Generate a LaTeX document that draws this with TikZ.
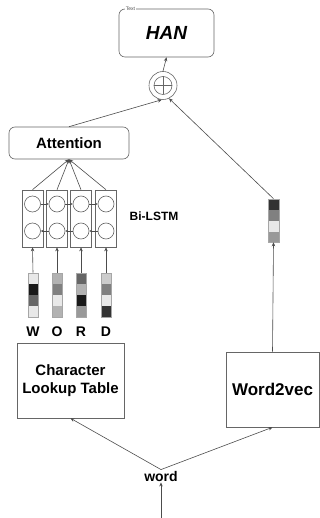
\documentclass[tikz,border=0pt]{standalone}
\usepackage{fontspec}
\setmainfont{Liberation Sans}
\usetikzlibrary{arrows.meta,calc}
\begin{document}
\begin{tikzpicture}[x=1pt,y=-1pt,
  line width=0.6pt,
  edge/.style={draw=black!70},
  arr/.style={edge,-{Stealth[length=4pt,width=3.5pt]}},
  rbox/.style={draw=black!60,rounded corners=6pt,fill=white,inner sep=0pt},
  sbox/.style={draw=black!60,fill=white,inner sep=0pt},
  cellcol/.style={draw=black!60,minimum width=21,minimum height=57,inner sep=0pt},
  unit/.style={circle,draw=black!60,minimum size=16,inner sep=0pt},
  vecbox/.style={draw=black!35,minimum width=10,minimum height=44,inner sep=0pt},
  lbl/.style={font=\bfseries},
]
\useasboundingbox (0,0) rectangle (320,518);

% output block
\node[rbox,minimum width=95,minimum height=48] (han) at (166.5,33)
  {\fontsize{19}{19}\selectfont\bfseries\itshape HAN};
\node[fill=white,inner sep=0.5pt,text=black!70,font=\fontsize{5}{5}\selectfont] (tag) at (130.5,9) {Text};

% merge (sum) node
\node[circle,draw=black!60,minimum size=28,inner sep=0pt] (sum) at (163,85.5) {};
\draw[black!60] (sum.center) circle[radius=9];
\draw[black!60] ($(sum.center)+(-9,0)$) -- ($(sum.center)+(9,0)$)
                ($(sum.center)+(0,-9)$) -- ($(sum.center)+(0,9)$);
\draw[arr] (sum.north) -- (han.south);

% attention
\node[rbox,minimum width=120,minimum height=32,font=\fontsize{15}{15}\selectfont\bfseries] (att) at (69,143) {Attention};

% Bi-LSTM columns
\foreach \i/\x in {1/32.5,2/57,3/81,4/106}{
  \node[cellcol] (col\i) at (\x,218.5) {};
  \node[unit] (t\i) at (\x,204) {};
  \node[unit] (b\i) at (\x,231) {};
  \draw[arr] (col\i.north) -- (att.south);
}
\foreach \a/\b in {1/2,2/3,3/4}{
  \draw[edge,-{Stealth[length=2.5pt,width=2.5pt]}] (t\a.east) -- (t\b.west);
  \draw[edge,-{Stealth[length=2.5pt,width=2.5pt]}] (b\b.west) -- (b\a.east);
}
\node[lbl,font=\fontsize{12}{12}\selectfont\bfseries] (bilstm) at (154,216) {Bi-LSTM};

% character embedding vectors
\newcommand\embcells[5]{%
  \fill[#2] (#1-5,273) rectangle (#1+5,284);
  \fill[#3] (#1-5,284) rectangle (#1+5,295);
  \fill[#4] (#1-5,295) rectangle (#1+5,306);
  \fill[#5] (#1-5,306) rectangle (#1+5,317);}
\embcells{33}{black!9}{black!90}{black!60}{black!9}
\embcells{57}{black!30}{black!50}{black!9}{black!30}
\embcells{81}{black!60}{black!30}{black!90}{black!40}
\embcells{106}{black!20}{black!50}{black!9}{black!80}
\foreach \i/\x/\c in {1/33/W,2/57/O,3/81/R,4/106/D}{
  \node[vecbox] (v\i) at (\x,295) {};
  \draw[arr] (v\i.north) -- (col\i.south);
  \node[font=\fontsize{14}{14}\selectfont\bfseries] (ch\i) at (\x,332) {\c};
}

% character lookup table
\node[sbox,minimum width=107,minimum height=75,align=center,
      font=\fontsize{15}{18}\selectfont\bfseries] (clt) at (70.5,380.5)
  {Character\\Lookup Table};

% word2vec branch
\node[sbox,minimum width=93,minimum height=75,font=\fontsize{17}{17}\selectfont\bfseries] (w2v) at (272.5,389.5) {Word2vec};
\fill[black!80] (268,199) rectangle (279,210);
\fill[black!50] (268,210) rectangle (279,221);
\fill[black!9]  (268,221) rectangle (279,232);
\fill[black!40] (268,232) rectangle (279,242);
\node[draw=black!35,minimum width=11,minimum height=43,inner sep=0pt] (wv) at (273.5,220.5) {};
\draw[arr] (w2v.north) -- (wv.south);
\draw[arr] (wv.north) -- (sum.-65);
\draw[arr] (att.north) -- (sum.-95);

% input word
\node[font=\fontsize{14}{14}\selectfont\bfseries,inner sep=1pt] (word) at (161,476) {word};
\coordinate (in) at (161,518);
\draw[arr] (in) -- (word.south);
\draw[arr] (word.north) -- (clt.south);
\draw[arr] (word.north) -- (w2v.south);
\end{tikzpicture}
\end{document}
